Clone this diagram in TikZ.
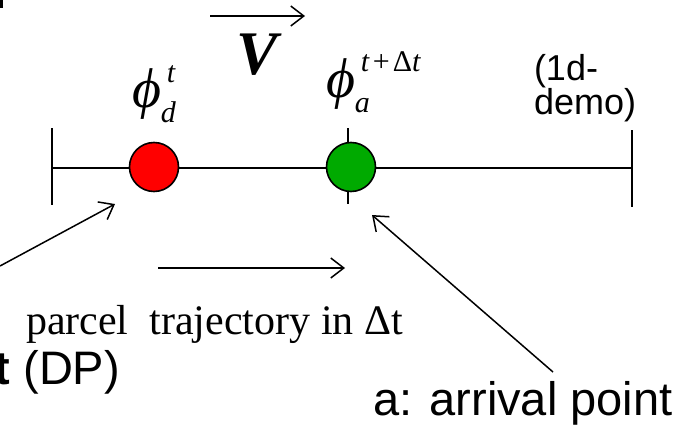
\documentclass[tikz,border=0pt]{standalone}
\usepackage{fontspec}
\setmainfont{Liberation Serif}
\setsansfont{Liberation Sans}
\usetikzlibrary{positioning,arrows.meta}
\definecolor{dpred}{RGB}{255,0,0}
\definecolor{apgreen}{RGB}{0,170,0}
\newcommand{\phiat}[2]{{\fontsize{56}{56}\selectfont\itshape ϕ}\fontsize{30}{30}\selectfont\rlap{\raisebox{25pt}{\kern6pt #1}}\raisebox{-15pt}{\itshape #2}}

\begin{document}
\begin{tikzpicture}[x=1pt,y=-1pt,line width=2pt,
  dot/.style={circle,draw,line width=1.6pt,minimum size=49pt,inner sep=0pt},
  pointer/.style={line width=1.5pt,-{Straight Barb[length=13pt,width=20pt]}},
  arial/.style={font=\sffamily\fontsize{47}{54}\selectfont,inner sep=0pt},
  times/.style={font=\fontsize{42}{48}\selectfont,inner sep=0pt}]
\useasboundingbox (0,0) rectangle (680,428);
\fill (0,0) rectangle (3,8);
\coordinate (lmid) at (52,168); \coordinate (rmid) at (632,168);
\coordinate (ltop) at (52,128); \coordinate (lbot) at (52,205);
\coordinate (mtop) at (348,128); \coordinate (mbot) at (348,204);
\coordinate (rtop) at (632,130); \coordinate (rbot) at (632,207);
\draw (lmid)--(rmid); \draw (ltop)--(lbot); \draw (mtop)--(mbot); \draw (rtop)--(rbot);
\node[dot,fill=dpred] (dp) at (154,167) {};
\node[dot,fill=apgreen] (ap) at (351,167) {};
\coordinate (vtail) at (210,16); \coordinate (vhead) at (305,16);
\draw[pointer] (vtail)--(vhead);
\node[inner sep=0pt,font=\fontsize{62}{62}\selectfont\bfseries\itshape] (vel) at (257,55) {V};
\node[inner sep=0pt,anchor=base west] (phid) at (131,107) {\phiat{\itshape t}{d}};
\node[inner sep=0pt,anchor=base west] (phia) at (325,97) {\phiat{\textit{t}\kern3pt+\kern3ptΔ\textit{t}}{a}};
\node[font=\sffamily\fontsize{36}{34}\selectfont,align=left,inner sep=0pt,anchor=north west] (demo) at (533,53) {(1d-\\demo)};
\coordinate (trs) at (158,268); \coordinate (tre) at (345,268);
\draw[pointer] (trs)--(tre);
\node[times,anchor=base west] (traj) at (25,334) {parcel\ \ trajectory in Δt};
\node[arial,anchor=base east] (dep) at (121,384) {\textbf{t} (DP)};
\node[arial,anchor=base west] (arr) at (372,415) {a: arrival point};
\coordinate (dptail) at (0,266); \coordinate (dphead) at (115,204);
\draw[pointer] (dptail)--(dphead);
\coordinate (aptail) at (553,372); \coordinate (aphead) at (372,215);
\draw[pointer] (aptail)--(aphead);
\end{tikzpicture}
\end{document}
